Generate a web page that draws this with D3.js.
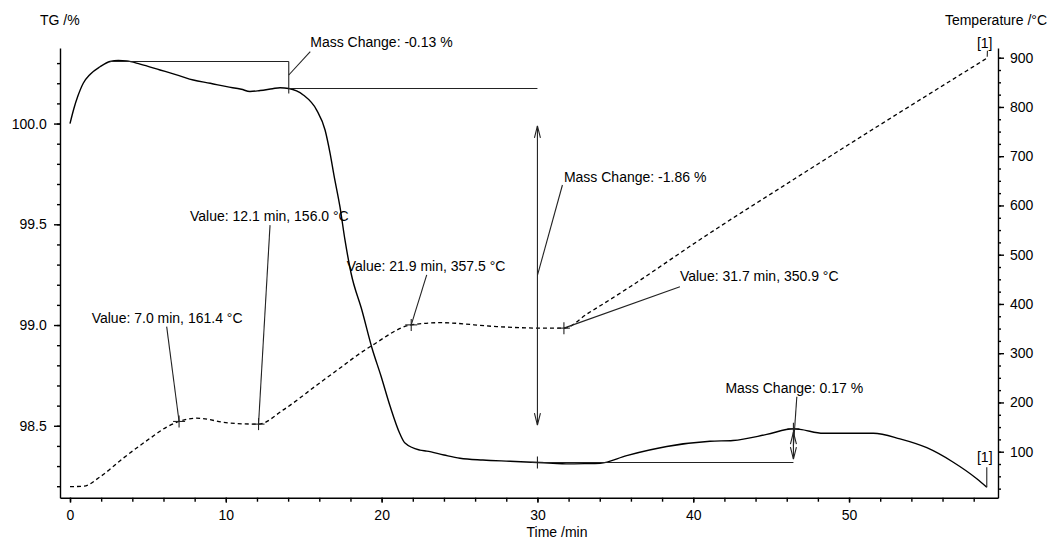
<!DOCTYPE html>
<meta charset="utf-8">
<style>
body { margin: 0; background: #fff; }
svg { font-family: "Liberation Sans", Arial, sans-serif; font-size: 14px; }
.curve { fill: none; stroke: #000; }
.note { fill: none; stroke: #222; stroke-width: 1.1; }
.axis path, .axis line { stroke: #000; stroke-width: 1.4; }
.axis text { font-family: "Liberation Sans", Arial, sans-serif; font-size: 14px; fill: #000; }
text { fill: #000; }
</style>
<svg width="1056" height="542"></svg>
<script src="https://cdn.jsdelivr.net/npm/d3@7"></script>
<script>

// TG curve (time /min, mass /%)
var tgTime = [0, 0.25, 0.5, 0.85, 1.3, 1.93, 2.57, 3.1, 3.64, 4.5, 5.78, 7.0, 7.91, 9.0, 10.06, 11.0, 11.55, 12.2, 13.0, 13.48, 14.04,
  14.97, 15.83, 16.37, 16.69, 16.94, 17.33, 17.65, 18.04, 18.74, 19.38, 19.96, 20.54, 21.18, 21.5, 22.46, 22.9,
  24.0, 25.03, 26.5, 28.24, 30.0, 31.0, 31.84, 33.0, 34.02, 35.73, 38.3, 41.08, 42.55, 44.72, 46.43, 46.85,
  48.35, 50.0, 51.56, 53.27, 54.99, 56.69, 58.2, 58.84];
var tgMass = [100.0, 100.075, 100.135, 100.2, 100.245, 100.282, 100.308, 100.313, 100.311, 100.295, 100.266, 100.238, 100.216, 100.2, 100.183, 100.17, 100.159, 100.164, 100.173, 100.178, 100.174,
  100.142, 100.067, 99.968, 99.853, 99.744, 99.585, 99.421, 99.257, 99.072, 98.886, 98.747, 98.598, 98.459, 98.414, 98.379, 98.374,
  98.355, 98.339, 98.33, 98.324, 98.318, 98.314, 98.311, 98.312, 98.314, 98.352, 98.397, 98.423, 98.427, 98.457, 98.485, 98.482,
  98.463, 98.463, 98.463, 98.435, 98.391, 98.319, 98.237, 98.195];

// temperature curve (time /min, °C)
var tempTime = [0, 0.9, 1.93, 3.42, 5.13, 6.2, 7.0, 8.13, 10.27, 12.1, 13.69, 15.83, 17.76, 18.18, 19.45, 21.9, 23.75, 27.39, 30.0, 31.7,
  33.2, 36.0, 40.4, 46.9, 52.0, 58.9];
var tempVal = [29, 30, 49, 87, 127, 150, 161.4, 168, 158, 156.0, 185, 235, 280, 290, 317, 357.5, 362, 354, 351, 350.9,
  380, 436, 530, 662, 764, 900];

// evaluated points on the temperature curve
var valueTimes = [7.0, 12.1, 21.9, 31.7];
var valueTemps = [161.4, 156.0, 357.5, 350.9];

// mass change steps: time where the step is read, upper level, lower level
var stepTimes = [14.04, 30.0, 46.43];
var stepFrom = [100.308, 100.174, 98.318];
var stepTo = [100.174, 98.318, 98.485];
var stepStart = [2.57, 14.04, 30.0];
var stepLabels = ["-0.13", "-1.86", "0.17"];

var xTicksMajor = [0, 10, 20, 30, 40, 50];
var xTicksMinor = d3.range(0, 59, 2);
var tgTicksMajor = [98.5, 99.0, 99.5, 100.0];
var tgTicksMinor = d3.range(982, 1004).map(function(d){ return d / 10; });
var tTicksMajor = [100, 200, 300, 400, 500, 600, 700, 800, 900];
var tTicksMinor = d3.range(25, 901, 25);

var svg = d3.select("svg");

var x = d3.scaleLinear().domain([-0.642, 59.56]).range([60, 998]);
var yTG = d3.scaleLinear().domain([98.143, 100.375]).range([497.7, 48]);
var yT = d3.scaleLinear().domain([6.6, 919.7]).range([497.7, 48]);

// axes: minor ticks first, then labelled majors
function axisPair(gen, scale, minor, major, sMin, sMaj, fmt, pad, tr) {
  var g1 = svg.append("g").attr("class", "axis").attr("transform", tr)
    .call(gen(scale).tickValues(minor).tickSize(sMin).tickSizeOuter(0).tickFormat(""));
  var g2 = svg.append("g").attr("class", "axis").attr("transform", tr)
    .call(gen(scale).tickValues(major).tickSize(sMaj).tickSizeOuter(0).tickPadding(pad).tickFormat(fmt));
  g2.select(".domain").remove();
  g1.attr("font-size", null).attr("font-family", null);
  g2.attr("font-size", null).attr("font-family", null);
}
axisPair(d3.axisBottom, x, xTicksMinor, xTicksMajor, 4, 5, d3.format("d"), 7.3, "translate(0,497.7)");
axisPair(d3.axisLeft, yTG, tgTicksMinor, tgTicksMajor, 3, 6, d3.format(".1f"), 7.3, "translate(60,0)");
axisPair(d3.axisRight, yT, tTicksMinor, tTicksMajor, 3, 6, d3.format("d"), 6, "translate(998,0)");

svg.append("text").attr("x", 40).attr("y", 25).text("TG /%");
svg.append("text").attr("x", 1047).attr("y", 25).attr("text-anchor", "end").text("Temperature /°C");
svg.append("text").attr("x", 557).attr("y", 536.5).attr("text-anchor", "middle").text("Time /min");

// curves
var tgLine = d3.line().x(function(d, i){ return x(tgTime[i]); }).y(function(d){ return yTG(d); })
  .curve(d3.curveMonotoneX);
var tLine = d3.line().x(function(d, i){ return x(tempTime[i]); }).y(function(d){ return yT(d); })
  .curve(d3.curveMonotoneX);

svg.append("path").attr("class", "curve").attr("d", tLine(tempVal))
  .attr("stroke-width", 1.3).attr("stroke-dasharray", "4,3");
svg.append("path").attr("class", "curve").attr("d", tgLine(tgMass))
  .attr("stroke-width", 1.4);

function seg(x1, y1, x2, y2) {
  svg.append("line").attr("class", "note")
    .attr("x1", x1).attr("y1", y1).attr("x2", x2).attr("y2", y2);
}
function cross(cx, cy, r) {
  seg(cx - r, cy, cx + r, cy);
  seg(cx, cy - r, cx, cy + r);
}
function dblArrow(ax, y1, y2) {
  var top = Math.min(y1, y2), bot = Math.max(y1, y2), len = 12, hw = 3;
  seg(ax, top, ax, bot);
  svg.append("path").attr("class", "note")
    .attr("d", "M" + (ax - hw) + "," + (top + len) + "L" + ax + "," + top + "L" + (ax + hw) + "," + (top + len) +
      "M" + (ax - hw) + "," + (bot - len) + "L" + ax + "," + bot + "L" + (ax + hw) + "," + (bot - len));
}

// value markers, with label placement offsets (px)
var valueLayout = [
  {lx: -12.4, ly: -94.8, tx: -75, ty: -4},
  {lx: 11.5, ly: -199, tx: -80, ty: -4.3},
  {lx: 15.5, ly: -50, tx: -80, ty: -4.3},
  {lx: 116, ly: -41.4, tx: 0, ty: -6}
];
valueTimes.forEach(function(t, i) {
  var px = x(t), py = yT(valueTemps[i]), L = valueLayout[i];
  cross(px, py, 6);
  seg(px, py, px + L.lx, py + L.ly);
  svg.append("text").attr("x", px + L.lx + L.tx).attr("y", py + L.ly + L.ty)
    .text("Value: " + t.toFixed(1) + " min, " + valueTemps[i].toFixed(1) + " °C");
});

// step 1: -0.13 %
var s0x = x(stepTimes[0]), s0a = yTG(stepFrom[0]), s0b = yTG(stepTo[0]);
seg(x(stepStart[0]), s0a, s0x, s0a);
seg(s0x, s0a, s0x, s0b + 5);
seg(s0x, (s0a + s0b) / 2, s0x + 21.5, 51.7);
svg.append("text").attr("x", s0x + 21.5).attr("y", 47).text("Mass Change: " + stepLabels[0] + " %");

// step 2: -1.86 %
var s1x = x(stepTimes[1]), s1a = yTG(stepFrom[1]), s1b = yTG(stepTo[1]);
seg(x(stepStart[1]), s1a, s1x, s1a);
cross(s1x, s1b, 6);
var in1 = (s1b - s1a) * 0.1;
dblArrow(s1x, s1a + in1, s1b - in1);
var m1 = (s1a + s1b) / 2;
seg(s1x, m1, s1x + 25, 185);
svg.append("text").attr("x", s1x + 26.5).attr("y", 181.5).text("Mass Change: " + stepLabels[1] + " %");

// step 3: 0.17 %
var s2x = x(stepTimes[2]), s2a = yTG(stepFrom[2]), s2b = yTG(stepTo[2]);
seg(x(stepStart[2]), s2a, s2x, s2a);
cross(s2x, s2b, 6);
var in2 = (s2a - s2b) * 0.1;
dblArrow(s2x, s2b + in2, s2a - in2);
seg(s2x, (s2a + s2b) / 2, s2x + 3.4, 396.7);
svg.append("text").attr("x", s2x - 68).attr("y", 393.3).text("Mass Change: " + stepLabels[2] + " %");

// curve end tags
var endT = x(tempTime[tempTime.length - 1]), endTy = yT(tempVal[tempVal.length - 1]);
seg(endT - 0.5, endTy - 1, endT - 0.3, endTy - 7);
svg.append("text").attr("x", endT - 3).attr("y", endTy - 10).attr("text-anchor", "middle").text("[1]");
var endG = x(tgTime[tgTime.length - 1]), endGy = yTG(tgMass[tgMass.length - 1]);
seg(endG, endGy, endG, endGy - 20);
svg.append("text").attr("x", endG - 2).attr("y", endGy - 25).attr("text-anchor", "middle").text("[1]");

</script>
